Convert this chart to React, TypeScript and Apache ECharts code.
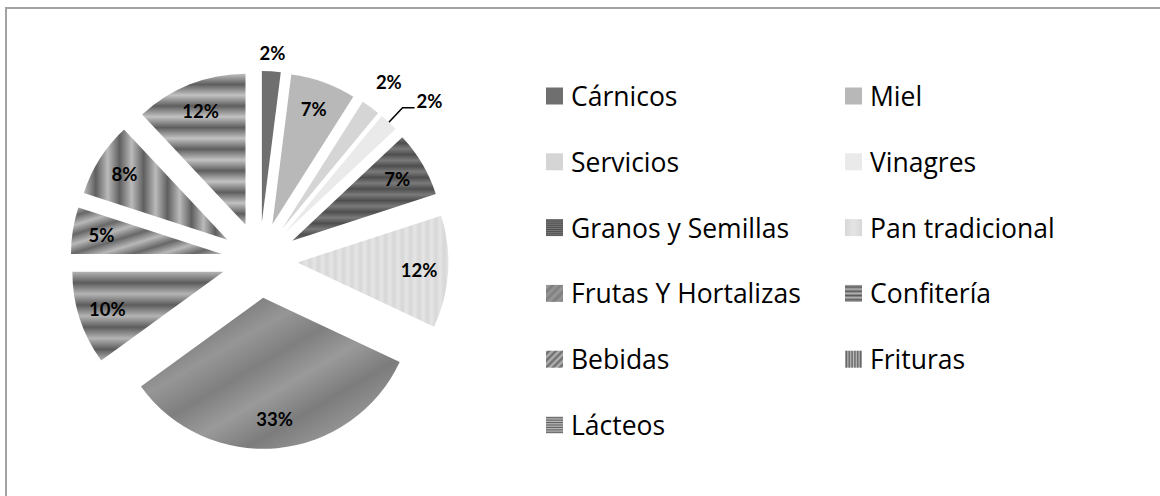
import React, { useEffect, useRef } from 'react';
import * as echarts from 'echarts';

// ---- data ----
const categories = [
  'Cárnicos',
  'Miel',
  'Servicios',
  'Vinagres',
  'Granos y Semillas',
  'Pan tradicional',
  'Frutas Y Hortalizas',
  'Confitería',
  'Bebidas',
  'Frituras',
  'Lácteos',
];
const values = [2, 7, 2, 2, 7, 12, 33, 10, 5, 8, 12];
const legendLeftColumn = ['Cárnicos', 'Servicios', 'Granos y Semillas', 'Frutas Y Hortalizas', 'Bebidas', 'Lácteos'];
const legendRightColumn = ['Miel', 'Vinagres', 'Pan tradicional', 'Confitería', 'Frituras'];
const labelAboveSlice = ['Cárnicos'];
const labelFarOutside = ['Servicios'];
const labelWithLeader = ['Vinagres'];

// ---- styles ----
const R = 151;
const OFFSET = 38;
const CENTER = [259.5, 260];
const LEGEND_FONT = '"Open Sans", "Noto Sans", sans-serif';
const LABEL_FONT = 'Lato, "Open Sans", sans-serif';

function bands(x2: number, y2: number, n: number, a: string, b: string) {
  const stops: { offset: number; color: string }[] = [];
  for (let i = 0; i <= 2 * n; i++) {
    stops.push({ offset: i / (2 * n), color: i % 2 === 0 ? a : b });
  }
  return new echarts.graphic.LinearGradient(0, 0, x2, y2, stops);
}

function fillFor(name: string): any {
  switch (name) {
    case 'Cárnicos':
      return '#6f6f6f';
    case 'Miel':
      return '#b8b8b8';
    case 'Servicios':
      return '#d5d5d5';
    case 'Vinagres':
      return '#eaeaea';
    case 'Granos y Semillas':
      return bands(0, 1, 9, '#7a7a7a', '#4e4e4e');
    case 'Pan tradicional':
      return bands(1, 0, 18, '#e5e5e5', '#d7d7d7');
    case 'Frutas Y Hortalizas':
      return new echarts.graphic.LinearGradient(0, 0, 1, 1, [
        { offset: 0, color: '#8a8a8a' },
        { offset: 0.1, color: '#9e9e9e' },
        { offset: 0.2, color: '#7a7a7a' },
        { offset: 0.33, color: '#969696' },
        { offset: 0.45, color: '#7f7f7f' },
        { offset: 0.57, color: '#9a9a9a' },
        { offset: 0.7, color: '#7c7c7c' },
        { offset: 0.83, color: '#959595' },
        { offset: 1, color: '#828282' },
      ]);
    case 'Confitería':
      return bands(0, 1, 4, '#b4b4b4', '#5c5c5c');
    case 'Bebidas':
      return bands(1, 1, 5, '#b8b8b8', '#676767');
    case 'Frituras':
      return bands(1, 0, 6, '#bababa', '#5f5f5f');
    case 'Lácteos':
      return bands(0, 1, 7, '#c2c2c2', '#5e5e5e');
    default:
      return '#888';
  }
}

const labelFont = {
  fontFamily: LABEL_FONT,
  fontWeight: 'bold' as const,
  fontSize: 18.5,
  color: '#000',
};

const pctFormatter = (p: any) => `${Math.round(p.percent)}%`;

function basePie(radius: [number, number]) {
  return {
    type: 'pie',
    center: CENTER,
    radius,
    startAngle: 90,
    clockwise: true,
    selectedMode: 'multiple',
    selectedOffset: OFFSET,
    avoidLabelOverlap: false,
    emphasis: { disabled: true },
    silent: true,
  };
}

export default function App() {
  const ref = useRef<HTMLDivElement>(null);
  useEffect(() => {
    document.body.style.margin = '0';
    if (!ref.current) return;
    const chart = echarts.init(ref.current, undefined, { renderer: 'svg' });

    const mainData = categories.map((name, i) => ({
      name,
      value: values[i],
      selected: true,
      itemStyle: { color: fillFor(name) },
    }));

    const innerLabelData = categories.map((name, i) => {
      const item: any = { name, value: values[i], selected: true };
      if (labelAboveSlice.includes(name) || labelFarOutside.includes(name)) {
        item.label = { show: false };
      }
      if (labelWithLeader.includes(name)) {
        item.label = {
          show: true,
          position: 'outside',
          distanceToLabelLine: 2,
          formatter: (p: any) => `{t|${Math.round(p.percent)}%}\n{s|}`,
          rich: {
            t: { ...labelFont },
            s: { height: 13, fontSize: 1 },
          },
        };
        item.labelLine = { show: true, length: 20, length2: 12, lineStyle: { color: '#000', width: 1.5 } };
      }
      return item;
    });

    const onlyLabel = (list: string[]) =>
      categories.map((name, i) => ({
        name,
        value: values[i],
        selected: true,
        label: { show: list.includes(name) },
      }));

    const transparent = { color: 'rgba(0,0,0,0)', borderWidth: 0 };

    chart.setOption({
      animation: false,
      backgroundColor: '#fff',
      graphic: [
        {
          type: 'rect',
          silent: true,
          z: -10,
          shape: { x: 6, y: 8, width: 1400, height: 800 },
          style: { fill: 'none', stroke: '#a3a3a3', lineWidth: 2 },
        },
      ],
      legend: [legendLeftColumn, legendRightColumn].map((data, k) => ({
        orient: 'vertical',
        left: k === 0 ? 546 : 845,
        top: 81,
        data,
        icon: 'rect',
        itemWidth: 17,
        itemHeight: 17,
        itemGap: 35.8,
        padding: 0,
        selectedMode: false,
        textStyle: {
          fontFamily: LEGEND_FONT,
          fontSize: 26.5,
          color: '#000',
          lineHeight: 30,
          padding: [0, 0, 0, 3],
        },
      })),
      series: [
        {
          ...basePie([0, R]),
          name: 'main',
          label: { show: false },
          labelLine: { show: false },
          itemStyle: { borderWidth: 0 },
          data: mainData,
        },
        {
          ...basePie([87, R]),
          name: 'labels',
          itemStyle: transparent,
          label: { show: true, position: 'inside', formatter: pctFormatter, ...labelFont },
          labelLine: { show: false },
          data: innerLabelData,
        },
        {
          ...basePie([R, 181]),
          name: 'labelsTop',
          itemStyle: transparent,
          label: { position: 'inside', formatter: pctFormatter, ...labelFont },
          labelLine: { show: false },
          data: onlyLabel(labelAboveSlice),
        },
        {
          ...basePie([R, 207]),
          name: 'labelsFar',
          itemStyle: transparent,
          label: { position: 'inside', formatter: pctFormatter, ...labelFont },
          labelLine: { show: false },
          data: onlyLabel(labelFarOutside),
        },
      ],
    });
    return () => chart.dispose();
  }, []);
  return <div ref={ref} style={{ width: 1160, height: 496 }} />;
}
